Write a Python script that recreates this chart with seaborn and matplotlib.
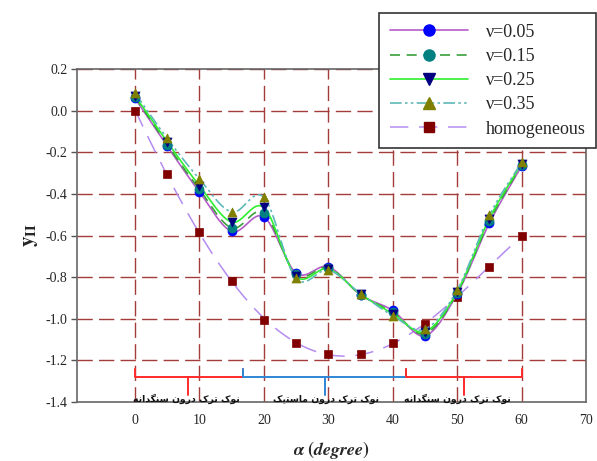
import numpy as np
import pandas as pd
import matplotlib
matplotlib.use("Agg")
import matplotlib.pyplot as plt
from matplotlib.lines import Line2D
import seaborn as sns

# ---------------- data ----------------
alpha = [0, 5, 10, 15, 20, 25, 30, 35, 40, 45, 50, 55, 60]
nu_005 = [0.060, -0.170, -0.390, -0.580, -0.510, -0.780, -0.750, -0.885, -0.960, -1.082, -0.880, -0.540, -0.265]
nu_015 = [0.066, -0.163, -0.378, -0.563, -0.490, -0.787, -0.755, -0.884, -0.968, -1.072, -0.875, -0.530, -0.260]
nu_025 = [0.072, -0.150, -0.360, -0.535, -0.465, -0.796, -0.760, -0.882, -0.975, -1.062, -0.870, -0.518, -0.254]
nu_035 = [0.085, -0.133, -0.328, -0.487, -0.416, -0.806, -0.766, -0.879, -0.985, -1.050, -0.862, -0.502, -0.248]
homog = [0.000, -0.304, -0.585, -0.820, -1.005, -1.118, -1.170, -1.168, -1.115, -1.025, -0.896, -0.752, -0.600]

series_labels = ["\u03bd=0.05", "\u03bd=0.15", "\u03bd=0.25", "\u03bd=0.35", "homogeneous"]
x_ticks = [0, 10, 20, 30, 40, 50, 60, 70]
y_ticks = [0.2, 0.0, -0.2, -0.4, -0.6, -0.8, -1.0, -1.2, -1.4]

# crack-tip regions (degree bounds) and their Persian labels (presentation forms, visual order)
region_bounds = [(0.0, 16.8), (16.8, 42.1), (42.1, 60.0)]
region_ticks = [8.2, 29.5, 51.1]
region_colors = ["#ff2a2a", "#2f86d6", "#ff2a2a"]
W_NOK = "\uFB8E\uFEEE\uFEE7"           # نوک
W_TARAK = "\uFB8E\uFEAE\uFE97"         # ترک
W_DAROON = "\uFEE5\uFEED\uFEAD\uFEA9"  # درون
W_SANGDANEH = "\uFEEA\uFEE7\uFE8D\uFEAA\uFB95\uFEE8\uFEB3"  # سنگدانه
W_MASTIC = "\uFB8F\uFBFE\uFE98\uFEB3\uFE8E\uFEE3"           # ماستیک
region_labels = [
    " ".join([W_SANGDANEH, W_DAROON, W_TARAK, W_NOK]),
    " ".join([W_MASTIC, W_DAROON, W_TARAK, W_NOK]),
    " ".join([W_SANGDANEH, W_DAROON, W_TARAK, W_NOK]),
]
region_label_x = [8.0, 29.6, 50.0]


def catmull_rom(x, y, n=24):
    x = np.asarray(x, float)
    y = np.asarray(y, float)
    xp = np.concatenate([[2 * x[0] - x[1]], x, [2 * x[-1] - x[-2]]])
    yp = np.concatenate([[2 * y[0] - y[1]], y, [2 * y[-1] - y[-2]]])
    t = np.linspace(0, 1, n, endpoint=False)
    xs, ys = [], []
    for i in range(len(x) - 1):
        for arr, out in ((xp, xs), (yp, ys)):
            p0, p1, p2, p3 = arr[i], arr[i + 1], arr[i + 2], arr[i + 3]
            out.append(0.5 * ((2 * p1) + (-p0 + p2) * t
                              + (2 * p0 - 5 * p1 + 4 * p2 - p3) * t ** 2
                              + (-p0 + 3 * p1 - 3 * p2 + p3) * t ** 3))
    xs.append([x[-1]])
    ys.append([y[-1]])
    return np.concatenate(xs), np.concatenate(ys)


sns.set_theme(style="white")
plt.rcParams["font.family"] = ["Liberation Serif", "DejaVu Serif"]
plt.rcParams["mathtext.fontset"] = "stix"

fig = plt.figure(figsize=(5.97, 4.61), dpi=100)
ax = fig.add_axes([0.129, 0.128, 0.8526, 0.722])

grid_color = "#a43c3c"
for xv in x_ticks[:-1]:
    ax.axvline(xv, color=grid_color, lw=1.0, dashes=(11, 4.5), zorder=0)
for yv in y_ticks[:-1]:
    ax.axhline(yv, color=grid_color, lw=1.0, dashes=(11, 4.5), zorder=0)

styles = [
    dict(color="#b45cc8", dashes=(None, None), marker="o", mfc="#0000ff", mec="#0000ff"),
    dict(color="#3aa03a", dashes=(6, 4), marker="o", mfc="#008080", mec="#008080"),
    dict(color="#2ef02e", dashes=(None, None), marker="v", mfc="#000080", mec="#000080"),
    dict(color="#5fb8b8", dashes=(7, 2, 1.5, 2, 1.5, 2), marker="^", mfc="#808000", mec="#808000"),
]
series = [nu_005, nu_015, nu_025, nu_035]

# homogeneous: fitted smooth curve + markers
coef = np.polyfit(alpha, homog, 4)
xh = np.linspace(alpha[0], alpha[-1] - 1.3, 200)
dfh = pd.DataFrame({"x": xh, "y": np.polyval(coef, xh)})
sns.lineplot(data=dfh, x="x", y="y", ax=ax, color="#b48cf0", lw=1.1,
             zorder=2, sort=False)
ax.lines[-1].set_dashes((12, 7))
sns.scatterplot(x=alpha, y=homog, ax=ax, marker="s", s=38, color="#800000",
                edgecolor="#800000", zorder=3)

for vals, st in zip(series, styles):
    xs, ys = catmull_rom(alpha, vals)
    d = pd.DataFrame({"x": xs, "y": ys})
    sns.lineplot(data=d, x="x", y="y", ax=ax, color=st["color"], lw=1.2, sort=False, zorder=4)
    if st["dashes"][0] is not None:
        ax.lines[-1].set_dashes(st["dashes"])
    sns.scatterplot(x=alpha, y=vals, ax=ax, marker=st["marker"], s=42,
                    color=st["mfc"], edgecolor=st["mec"], zorder=5)

# crack-tip region brackets
yb, ye, yt = -1.28, -1.243, -1.365
for (x0, x1), xc, col in zip(region_bounds, region_ticks, region_colors):
    ax.plot([x0, x0, x1, x1], [ye, yb, yb, ye], color=col, lw=1.4, zorder=3)
    ax.plot([xc, xc], [yb, yt], color=col, lw=1.4, zorder=3)
for xl, lab in zip(region_label_x, region_labels):
    ax.text(xl, -1.386, lab, ha="center", va="center", fontsize=6.7,
            family=["DejaVu Sans"], fontweight="bold", color="#111111", zorder=6)

ax.set_xlim(-9, 70)
ax.set_ylim(-1.4, 0.2)
ax.set_xticks(x_ticks)
ax.set_xticklabels([str(v) for v in x_ticks])
ax.set_yticks(y_ticks)
ax.set_yticklabels([f"{v:.1f}" for v in y_ticks])
ax.tick_params(axis="y", length=4, width=1, color="#555555", labelsize=10, pad=3, direction="out", left=True)
ax.tick_params(axis="x", length=0, labelsize=10, pad=9)
for sp in ax.spines.values():
    sp.set_color("#666666")
    sp.set_linewidth(1.2)

ax.set_xlabel(r"$\boldsymbol{\alpha}$ $\mathbf{(}\boldsymbol{degree}\mathbf{)}$", fontsize=13, labelpad=8)
ax.set_ylabel(r"$\mathbf{y}_{\mathbf{II}}$", fontsize=15, labelpad=4)

handles = []
for st, lab in zip(styles, series_labels[:4]):
    h = Line2D([], [], color=st["color"], lw=1.2, marker=st["marker"], markersize=8,
               markerfacecolor=st["mfc"], markeredgecolor=st["mec"])
    if st["dashes"][0] is not None:
        h.set_dashes(st["dashes"])
    handles.append(h)
hh = Line2D([], [], color="#b48cf0", lw=1.1, marker="s", markersize=7,
            markerfacecolor="#800000", markeredgecolor="#800000")
hh.set_dashes((12, 7))
handles.append(hh)
leg = fig.legend(handles, series_labels, loc="upper left", bbox_to_anchor=(0.635, 0.972),
                 fontsize=13, handlelength=4.3, handletextpad=1.0, labelspacing=0.4,
                 frameon=True, fancybox=False, borderpad=0.6, borderaxespad=0)
leg.get_frame().set_edgecolor("#333333")
leg.get_frame().set_linewidth(1.2)
leg.get_frame().set_facecolor("white")
leg.get_frame().set_alpha(1)

fig.savefig("out.png", dpi=100)
